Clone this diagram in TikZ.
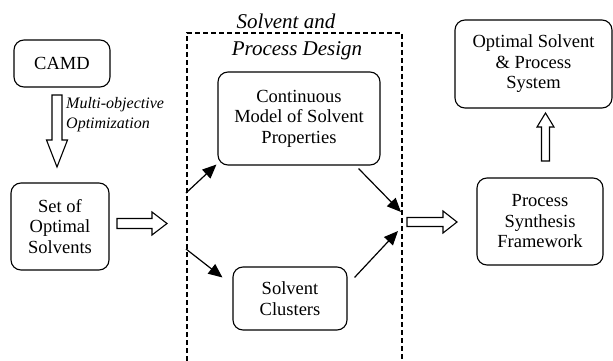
\documentclass[tikz,border=0pt]{standalone}
\usepackage{fontspec}
\setmainfont{Liberation Serif}
\usetikzlibrary{arrows.meta,calc}

\tikzset{
  box/.style={draw, rounded corners=10pt, line width=1.1pt, inner sep=0pt,
    align=center, font=\fontsize{18.5}{20.5}\selectfont},
  hollow/.style={draw, line width=1.1pt, fill=white, line join=miter},
  link/.style={line width=1.2pt, -{Triangle[length=14pt,width=12pt]}},
  frame/.style={line width=1.2pt, dash pattern=on 5pt off 3pt},
  note/.style={font=\fontsize{16}{20}\itshape\selectfont, align=left, inner sep=0pt},
  heading/.style={font=\fontsize{21}{24}\itshape\selectfont, inner sep=0pt}
}

% hollow block arrow: start, angle, length, shaft half width, head half width, head length
\newcommand\hollowarrow[6]{%
  \draw[hollow, shift={(#1)}, rotate=#2]
    (0,-#4) -- (#3-#6,-#4) -- (#3-#6,-#5) -- (#3,0) -- (#3-#6,#5)
    -- (#3-#6,#4) -- (0,#4) -- cycle;}

\begin{document}
\begin{tikzpicture}[x=1pt, y=-1pt]
  \useasboundingbox (0,0) rectangle (613,361);

  % design frame, open at the bottom
  \draw[frame] (187,361) -- (187,33) -- (402,33) -- (402,361);
  \node[heading] (title1) at (286,21) {Solvent and};
  \node[heading] (title2) at (297,51) {Process Design};

  % boxes
  \node[box, minimum width=96pt, minimum height=47pt] (camd) at (62,63.5) {CAMD};
  \node[box, minimum width=98pt, minimum height=87pt] (set) at (60,226.5)
    {Set of\\Optimal\\Solvents};
  \node[box, minimum width=162pt, minimum height=93pt] (cont) at (299,118.5)
    {Continuous\\Model of Solvent\\Properties};
  \node[box, minimum width=114pt, minimum height=63pt] (clus) at (290,298.5)
    {Solvent\\Clusters};
  \node[box, minimum width=126pt, minimum height=87pt] (synth) at (540,221.5)
    {Process\\Synthesis\\Framework};
  \node[box, minimum width=157pt, minimum height=88pt] (opt) at (533.5,64)
    {Optimal Solvent\\\& Process\\System};

  % label of the optimization step
  \node[note, anchor=north west] (moo) at (66,97) {Multi-objective\\Optimization};

  % hollow block arrows
  \coordinate (h1) at (57,95);
  \coordinate (h2) at (117,223.5);
  \coordinate (h3) at (407,222);
  \coordinate (h4) at (545.5,161);
  \hollowarrow{h1}{-90}{72}{5}{10.5}{27}
  \hollowarrow{h2}{0}{50}{5}{11.5}{15}
  \hollowarrow{h3}{0}{50}{4.5}{11}{14}
  \hollowarrow{h4}{90}{48}{4}{8.5}{14}

  % arrows inside the frame
  \coordinate (in1) at (186,193);
  \coordinate (in2) at (186,249);
  \coordinate (out1) at (401,212);
  \coordinate (out2) at (398,231);
  \coordinate (t2) at ($(clus.north west)+(-10,11)$);
  \coordinate (s3) at ($(cont.south east)+(-22,3)$);
  \coordinate (s4) at ($(clus.north east)+(7,11)$);
  \draw[link] (in1) -- ($(cont.south west)+(-1,-1)$);
  \draw[link] (in2) -- (t2);
  \draw[link] (s3) -- (out1);
  \draw[link] (s4) -- (out2);
\end{tikzpicture}
\end{document}
